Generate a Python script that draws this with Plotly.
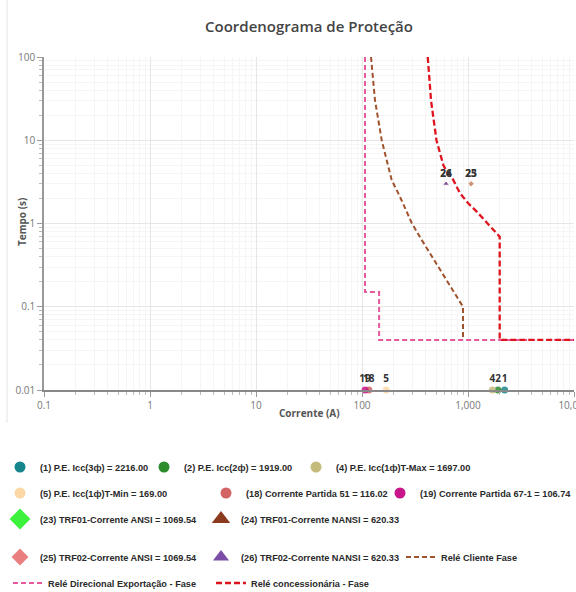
import plotly.graph_objects as go

# ---------------- data ----------------
x_tick_vals = [0.1, 1, 10, 100, 1000, 10000]
x_tick_text = ["0.1", "1", "10", "100", "1,000", "10,000"]
y_tick_vals = [0.01, 0.1, 1, 10, 100]
y_tick_text = ["0.01", "0.1", "1", "10", "100"]

# short-circuit / pickup points (drawn on the 0.01 s line)
pt_labels = ["1", "2", "4", "5", "18", "19"]
pt_names = [
    "(1) P.E. Icc(3ф) = 2216.00",
    "(2) P.E. Icc(2ф) = 1919.00",
    "(4) P.E. Icc(1ф)T-Max = 1697.00",
    "(5) P.E. Icc(1ф)T-Min = 169.00",
    "(18) Corrente Partida 51 = 116.02",
    "(19) Corrente Partida 67-1 = 106.74",
]
pt_current = [2216.00, 1919.00, 1697.00, 169.00, 116.02, 106.74]
pt_time = [0.01, 0.01, 0.01, 0.01, 0.01, 0.01]
pt_colors = ["#17868c", "#2b8c2b", "#c4ba7a", "#fcd8a6", "#d46363", "#c8168a"]

# transformer inrush points
trf_labels = ["23", "24", "25", "26"]
trf_names = [
    "(23) TRF01-Corrente ANSI = 1069.54",
    "(24) TRF01-Corrente NANSI = 620.33",
    "(25) TRF02-Corrente ANSI = 1069.54",
    "(26) TRF02-Corrente NANSI = 620.33",
]
trf_current = [1069.54, 620.33, 1069.54, 620.33]
trf_time = [3, 3, 3, 3]
trf_symbols = ["diamond", "triangle-up", "diamond", "triangle-up"]
trf_colors = ["#3cf23c", "#8b3a1e", "#ea7f7f", "#7b4ea6"]

# relay curves
cliente_i = [121.6, 132.7, 153.5, 190.6, 228, 296, 366, 569, 897, 897]
cliente_t = [100, 30, 10, 3.33, 2.1, 1.0, 0.634, 0.254, 0.1, 0.04]
direcional_i = [106.74, 106.74, 145, 145, 10000]
direcional_t = [100, 0.15, 0.15, 0.04, 0.04]
conc_i = [417, 448, 504, 585, 630, 720, 841, 1000, 1208, 1545, 1990, 1990, 10000]
conc_t = [100, 30, 10, 5.04, 4.19, 3.4, 2.31, 1.76, 1.39, 0.986, 0.694, 0.04, 0.04]

line_names = ["Relé Cliente Fase", "Relé Direcional Exportação - Fase", "Relé concessionária - Fase"]
line_colors = ["#a0522d", "#e8579c", "#e0141e"]

# ---------------- figure ----------------
W, H = 576.0, 592.0
fig = go.Figure()

label_font = dict(family="Open Sans", size=10, color="#333", weight="bold")

# legend slots: (x of legend box in px, y centre of row in px)
slots = {
    "pt0": (0, 467), "pt1": (144, 467), "pt2": (296, 467),
    "pt3": (0, 493), "pt4": (206, 493), "pt5": (380, 493),
    "trf0": (0, 519), "trf1": (201, 519),
    "trf2": (0, 557), "trf3": (201, 557),
    "ln0": (401, 557), "ln1": (8, 583), "ln2": (211, 583),
}
order = ["pt0", "pt1", "pt2", "pt3", "pt4", "pt5", "trf0", "trf1", "trf2", "trf3", "ln0", "ln1", "ln2"]
leg_id = {k: ("legend" if i == 0 else "legend%d" % (i + 1)) for i, k in enumerate(order)}

# curves
line_x = [cliente_i, direcional_i, conc_i]
line_y = [cliente_t, direcional_t, conc_t]
line_w = [2, 2, 2.3]
line_dash = ["5px,3px", "5px,3px", "6px,3px"]
for i in range(3):
    fig.add_trace(go.Scatter(x=line_x[i], y=line_y[i], mode="lines", name=line_names[i],
                             line=dict(color=line_colors[i], width=line_w[i], dash=line_dash[i]),
                             legend=leg_id["ln%d" % i], hoverinfo="skip"))

# points on the chart
fig.add_trace(go.Scatter(x=pt_current, y=pt_time, mode="markers+text", text=pt_labels,
                         textposition="top center", textfont=label_font,
                         marker=dict(size=7, color=pt_colors, opacity=0.85),
                         cliponaxis=False, showlegend=False))
fig.add_trace(go.Scatter(x=trf_current, y=trf_time, mode="markers+text", text=trf_labels,
                         textposition="top center", textfont=label_font,
                         marker=dict(size=[5, 6, 5, 6], color=trf_colors, symbol=trf_symbols, opacity=0.8),
                         cliponaxis=False, showlegend=False))

# legend entries for the points (bigger symbols, as in the reference legend)
for i in range(len(pt_names)):
    fig.add_trace(go.Scatter(x=[None], y=[None], mode="markers", name=pt_names[i],
                             marker=dict(size=11, color=pt_colors[i]),
                             legend=leg_id["pt%d" % i]))
trf_leg_size = [16, 16, 13, 14]
for i in range(len(trf_names)):
    fig.add_trace(go.Scatter(x=[None], y=[None], mode="markers", name=trf_names[i],
                             marker=dict(size=trf_leg_size[i], color=trf_colors[i], symbol=trf_symbols[i]),
                             legend=leg_id["trf%d" % i]))

leg_font = dict(family="Liberation Sans, Arial", size=9.2, color="#2a2a2a", weight="bold")
legends = {}
for k in order:
    xp, yp = slots[k]
    legends[leg_id[k]] = dict(orientation="h", xref="container", yref="container", x=xp / W,
                              y=1 - yp / H, xanchor="left", yanchor="middle", font=leg_font,
                              bgcolor="rgba(0,0,0,0)", itemsizing="trace",
                              itemclick=False, itemdoubleclick=False)

axis_font = dict(family="Open Sans", size=10, color="#777")
title_font = dict(family="Open Sans", size=10, color="#555", weight="bold")

fig.update_layout(
    width=576, height=592,
    margin=dict(l=44, r=2, t=57, b=202, autoexpand=False),
    paper_bgcolor="white", plot_bgcolor="white",
    title=dict(text="Coordenograma de Proteção", x=0.5, xref="paper", xanchor="center",
               y=1 - 27 / H, yref="container", yanchor="middle", automargin=False,
               font=dict(family="Open Sans", size=15, color="#444", weight=600)),
    xaxis=dict(type="log", range=[-1, 4], tickmode="array", tickvals=x_tick_vals, ticktext=x_tick_text,
               tickfont=axis_font, showline=True, linecolor="#888", linewidth=1.5,
               ticks="outside", ticklen=5, tickcolor="#999", automargin=False,
               ticklabeloverflow="allow",
               showgrid=True, gridcolor="#e6e6e6", gridwidth=1, zeroline=False,
               minor=dict(dtick="D1", ticks="outside", ticklen=3, tickcolor="#bbb",
                          showgrid=True, gridcolor="#f5f5f5")),
    yaxis=dict(type="log", range=[-2, 2], tickmode="array", tickvals=y_tick_vals, ticktext=y_tick_text,
               tickfont=axis_font, showline=True, linecolor="#999", linewidth=1.5,
               ticks="outside", ticklen=5, tickcolor="#999", automargin=False,
               showgrid=True, gridcolor="#e6e6e6", gridwidth=1, zeroline=False,
               minor=dict(dtick="D1", ticks="outside", ticklen=3, tickcolor="#bbb",
                          showgrid=True, gridcolor="#f5f5f5")),
    annotations=[
        dict(text="Corrente (A)", xref="paper", yref="paper", x=0.5,
             y=(390 - 413) / 333.0, xanchor="center", yanchor="middle", showarrow=False, font=title_font),
        dict(text="Tempo (s)", xref="paper", yref="paper", x=(22 - 44) / 530.0,
             y=(390 - 222) / 333.0, xanchor="center", yanchor="middle", showarrow=False,
             textangle=-90, font=title_font),
    ],
    shapes=[dict(type="line", xref="paper", yref="paper", x0=-37 / 530.0, x1=-37 / 530.0,
                 y0=-(423 - 390) / 333.0, y1=1 + 57 / 333.0, line=dict(color="#e4e4e4", width=1))],
    **legends,
)

fig.write_html("out.html", config={"displayModeBar": False},
               post_script="document.body.style.margin='0px';")
